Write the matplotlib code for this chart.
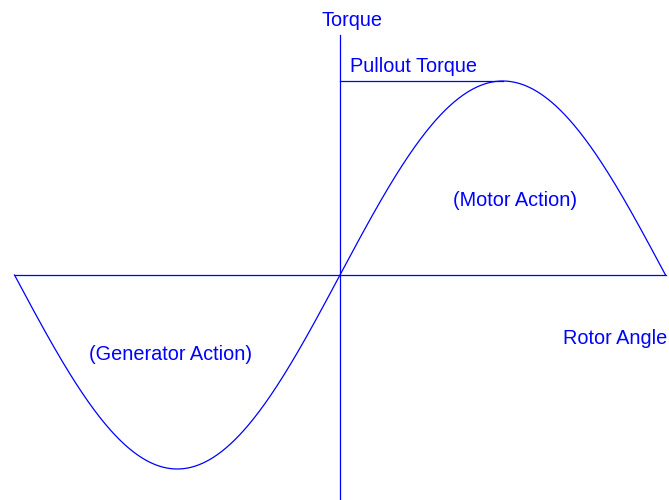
import numpy as np
import matplotlib
matplotlib.use("Agg")
import matplotlib.pyplot as plt
from matplotlib import font_manager

# Data
angle_range = [-180, 180]          # rotor angle, degrees
pullout_torque = 1.0               # peak torque
pullout_angle = 90                 # angle of peak torque
labels = {
    "y_axis": "Torque",
    "x_axis": "Rotor Angle",
    "pullout": "Pullout Torque",
    "motor": "(Motor Action)",
    "generator": "(Generator Action)",
}

angles = np.linspace(angle_range[0], angle_range[1], 721)
torque = pullout_torque * np.sin(np.radians(angles))

W, H = 669, 500
fig = plt.figure(figsize=(W / 100, H / 100), dpi=100)
ax = fig.add_axes([0, 0, 1, 1])
ax.set_axis_off()

xs = 325.5 / 180.0
x0 = 340.0
y0 = 275.0
ys = 194.0
ax.set_xlim((0 - x0) / xs, (W - x0) / xs)
ax.set_ylim(-(H - y0) / ys, y0 / ys)

color = "#0000ff"
lw = 0.9
ax.plot(angles, torque, color=color, lw=lw)
ax.plot(angle_range, [0, 0], color=color, lw=lw)
ax.plot([0, 0], [-(H - y0) / ys, (y0 - 35) / ys], color=color, lw=lw)
ax.plot([0, pullout_angle], [pullout_torque, pullout_torque], color=color, lw=lw)

names = {f.name for f in font_manager.fontManager.ttflist}
if "Liberation Sans Narrow" in names:
    font = dict(family=["Liberation Sans Narrow", "DejaVu Sans"], color=color, fontsize=17)
else:
    font = dict(family=["Liberation Sans", "DejaVu Sans"], color=color, fontsize=14.3)

def px(x, y):
    return x / W, 1 - y / H

fig.text(*px(321, 21), labels["y_axis"], ha="left", va="center", **font)
fig.text(*px(350, 67), labels["pullout"], ha="left", va="center", **font)
fig.text(*px(515, 200), labels["motor"], ha="center", va="center", **font)
fig.text(*px(171, 355), labels["generator"], ha="center", va="center", **font)
fig.text(*px(667, 338), labels["x_axis"], ha="right", va="center", **font)

fig.savefig("out.png", dpi=100)
